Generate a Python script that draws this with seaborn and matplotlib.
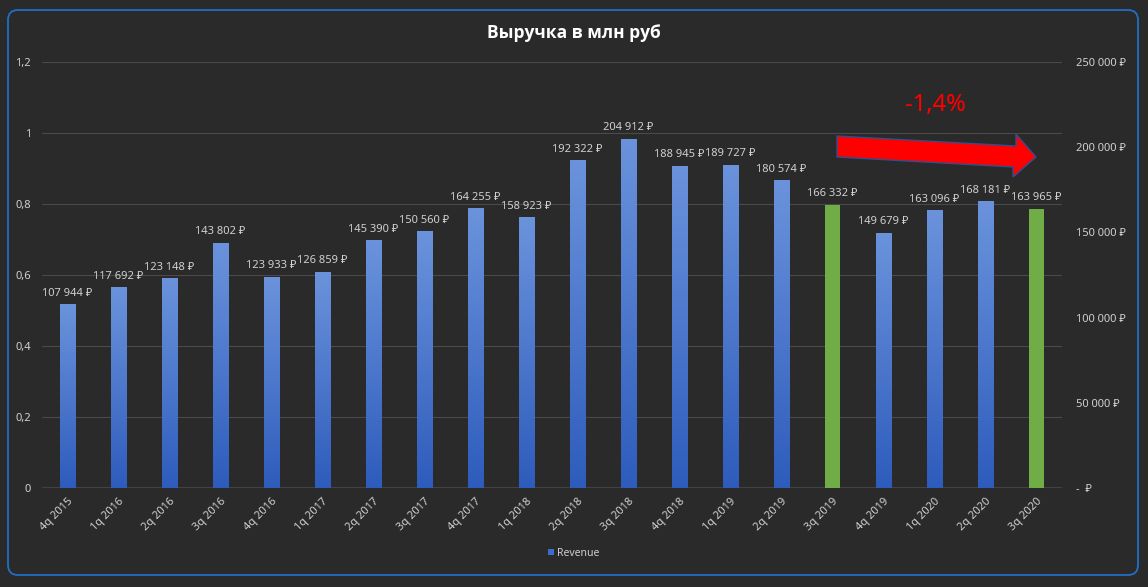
import numpy as np
import pandas as pd
import matplotlib
matplotlib.use("Agg")
import matplotlib.pyplot as plt
import seaborn as sns
from matplotlib.patches import FancyBboxPatch, Polygon, Patch
from matplotlib.colors import LinearSegmentedColormap
from matplotlib.transforms import IdentityTransform

quarters = ["4q 2015", "1q 2016", "2q 2016", "3q 2016", "4q 2016", "1q 2017", "2q 2017",
            "3q 2017", "4q 2017", "1q 2018", "2q 2018", "3q 2018", "4q 2018", "1q 2019",
            "2q 2019", "3q 2019", "4q 2019", "1q 2020", "2q 2020", "3q 2020"]
revenue = [107944, 117692, 123148, 143802, 123933, 126859, 145390, 150560, 164255, 158923,
           192322, 204912, 188945, 189727, 180574, 166332, 149679, 163096, 168181, 163965]
highlight = ["3q 2019", "3q 2020"]
left_ticks = [0, 0.2, 0.4, 0.6, 0.8, 1.0, 1.2]
left_labels = ["0", "0,2", "0,4", "0,6", "0,8", "1", "1,2"]
right_ticks = [0, 50000, 100000, 150000, 200000, 250000]
right_labels = ["-  \u20bd", "50 000 \u20bd", "100 000 \u20bd", "150 000 \u20bd",
                "200 000 \u20bd", "250 000 \u20bd"]
title = "Выручка в млн руб"
change_label = "-1,4%"
legend_label = "Revenue"

sns.set_style("dark")
FONT = ["Noto Sans", "DejaVu Sans"]
plt.rcParams["font.family"] = FONT

BG = "#2a2a2a"
TXT = "#d0d0d0"
BLUE_TOP = "#6b93dc"
BLUE_BOT = "#2e5cbc"
GREEN = "#70ad47"

def fmt(v):
    return f"{v:,}".replace(",", " ") + " \u20bd"

df = pd.DataFrame({"quarter": quarters, "revenue": revenue})
df["group"] = np.where(df["quarter"].isin(highlight), "hl", "base")

fig = plt.figure(figsize=(11.48, 5.87), dpi=100, facecolor=BG)
ax = fig.add_axes([42 / 1148, 1 - 488 / 587, 1020 / 1148, 426 / 587])
ax.set_facecolor("none")
ax2 = ax.twinx()
ax2.set_facecolor("none")

sns.barplot(data=df, x="quarter", y="revenue", hue="group",
            palette={"base": BLUE_BOT, "hl": GREEN}, dodge=False, width=0.31,
            legend=False, ax=ax2, saturation=1, linewidth=0, edgecolor="none")

cmap = LinearSegmentedColormap.from_list("g", [BLUE_BOT, BLUE_TOP])
grad = np.linspace(0, 1, 256).reshape(-1, 1)
for p in ax2.patches:
    if p.get_height() <= 0:
        continue
    fc = matplotlib.colors.to_hex(p.get_facecolor())
    if fc.lower() == BLUE_BOT.lower():
        x0 = p.get_x(); w = p.get_width(); h = p.get_height()
        im = ax2.imshow(grad, cmap=cmap, origin="lower", aspect="auto",
                        extent=[x0, x0 + w, 0, h], zorder=p.get_zorder())
        im.set_clip_path(p)
        p.set_alpha(0)

for i, v in enumerate(revenue):
    ax2.annotate(fmt(v), (i, v), xytext=(0, 4), textcoords="offset points",
                 ha="center", va="bottom", fontsize=8, color=TXT)

ax2.set_ylim(0, 250000)
ax2.set_xlim(-0.5, len(quarters) - 0.5)
ax.set_xlim(-0.5, len(quarters) - 0.5)
ax.set_ylim(0, 1.2)

ax2.set_yticks(right_ticks)
ax2.set_yticklabels(right_labels, fontsize=8, color=TXT)
ax.set_yticks(left_ticks)
ax.set_yticklabels(left_labels, fontsize=8, color=TXT)
ax.tick_params(axis="y", length=0, pad=8)
ax2.tick_params(axis="y", length=0, pad=10)
ax2.set_ylabel("")
ax2.set_xlabel("")
ax.set_xlabel("")

ax.set_xticks(range(len(quarters)))
ax.set_xticklabels(quarters, rotation=45, ha="right", rotation_mode="anchor",
                   fontsize=8, color=TXT)
ax.tick_params(axis="x", length=0, pad=6, labelbottom=True)
ax2.tick_params(axis="x", length=0, labelbottom=False)

ax.grid(False); ax2.grid(False)
for y in left_ticks[1:]:
    ax.axhline(y, color="#4a4a4a", lw=0.8, zorder=0)
ax.axhline(0, color="#a6a6a6", lw=1.0, zorder=0)
for a in (ax, ax2):
    for s in a.spines.values():
        s.set_visible(False)

fig.text(574 / 1148, 1 - 33 / 587, title, ha="center", va="center",
         fontsize=12.5, fontweight="bold", color="white",
         family=["Open Sans", "DejaVu Sans"])

# annotation arrow (pixel coordinates of the decoration, y from top)
arrow_px = [(837, 136), (1016, 146), (1016, 134), (1036, 157), (1013, 177), (1013, 167), (837, 157)]
arrow = Polygon([(x / 1148, 1 - y / 587) for x, y in arrow_px], closed=True,
                transform=fig.transFigure, fc="#ff0000", ec="#2f4f8f", lw=1.0)
fig.add_artist(arrow)
fig.text(935 / 1148, 1 - 105 / 587, change_label, ha="center", va="center",
         fontsize=17, color="#ff0000")

leg = fig.legend(handles=[Patch(fc="#3f6ccb", ec="none", label=legend_label)], loc="center",
                 bbox_to_anchor=(574 / 1148, 1 - 553 / 587), frameon=False,
                 fontsize=7.5, handlelength=0.6, handleheight=0.6, handletextpad=0.3,
                 labelcolor=TXT)

border = FancyBboxPatch((8, 587 - 575), 1130, 565, boxstyle="round,pad=0,rounding_size=10",
                        transform=IdentityTransform(), fill=False, ec="#1f6fc5", lw=1.3)
fig.add_artist(border)

fig.savefig("out.png", dpi=100, facecolor=BG)
